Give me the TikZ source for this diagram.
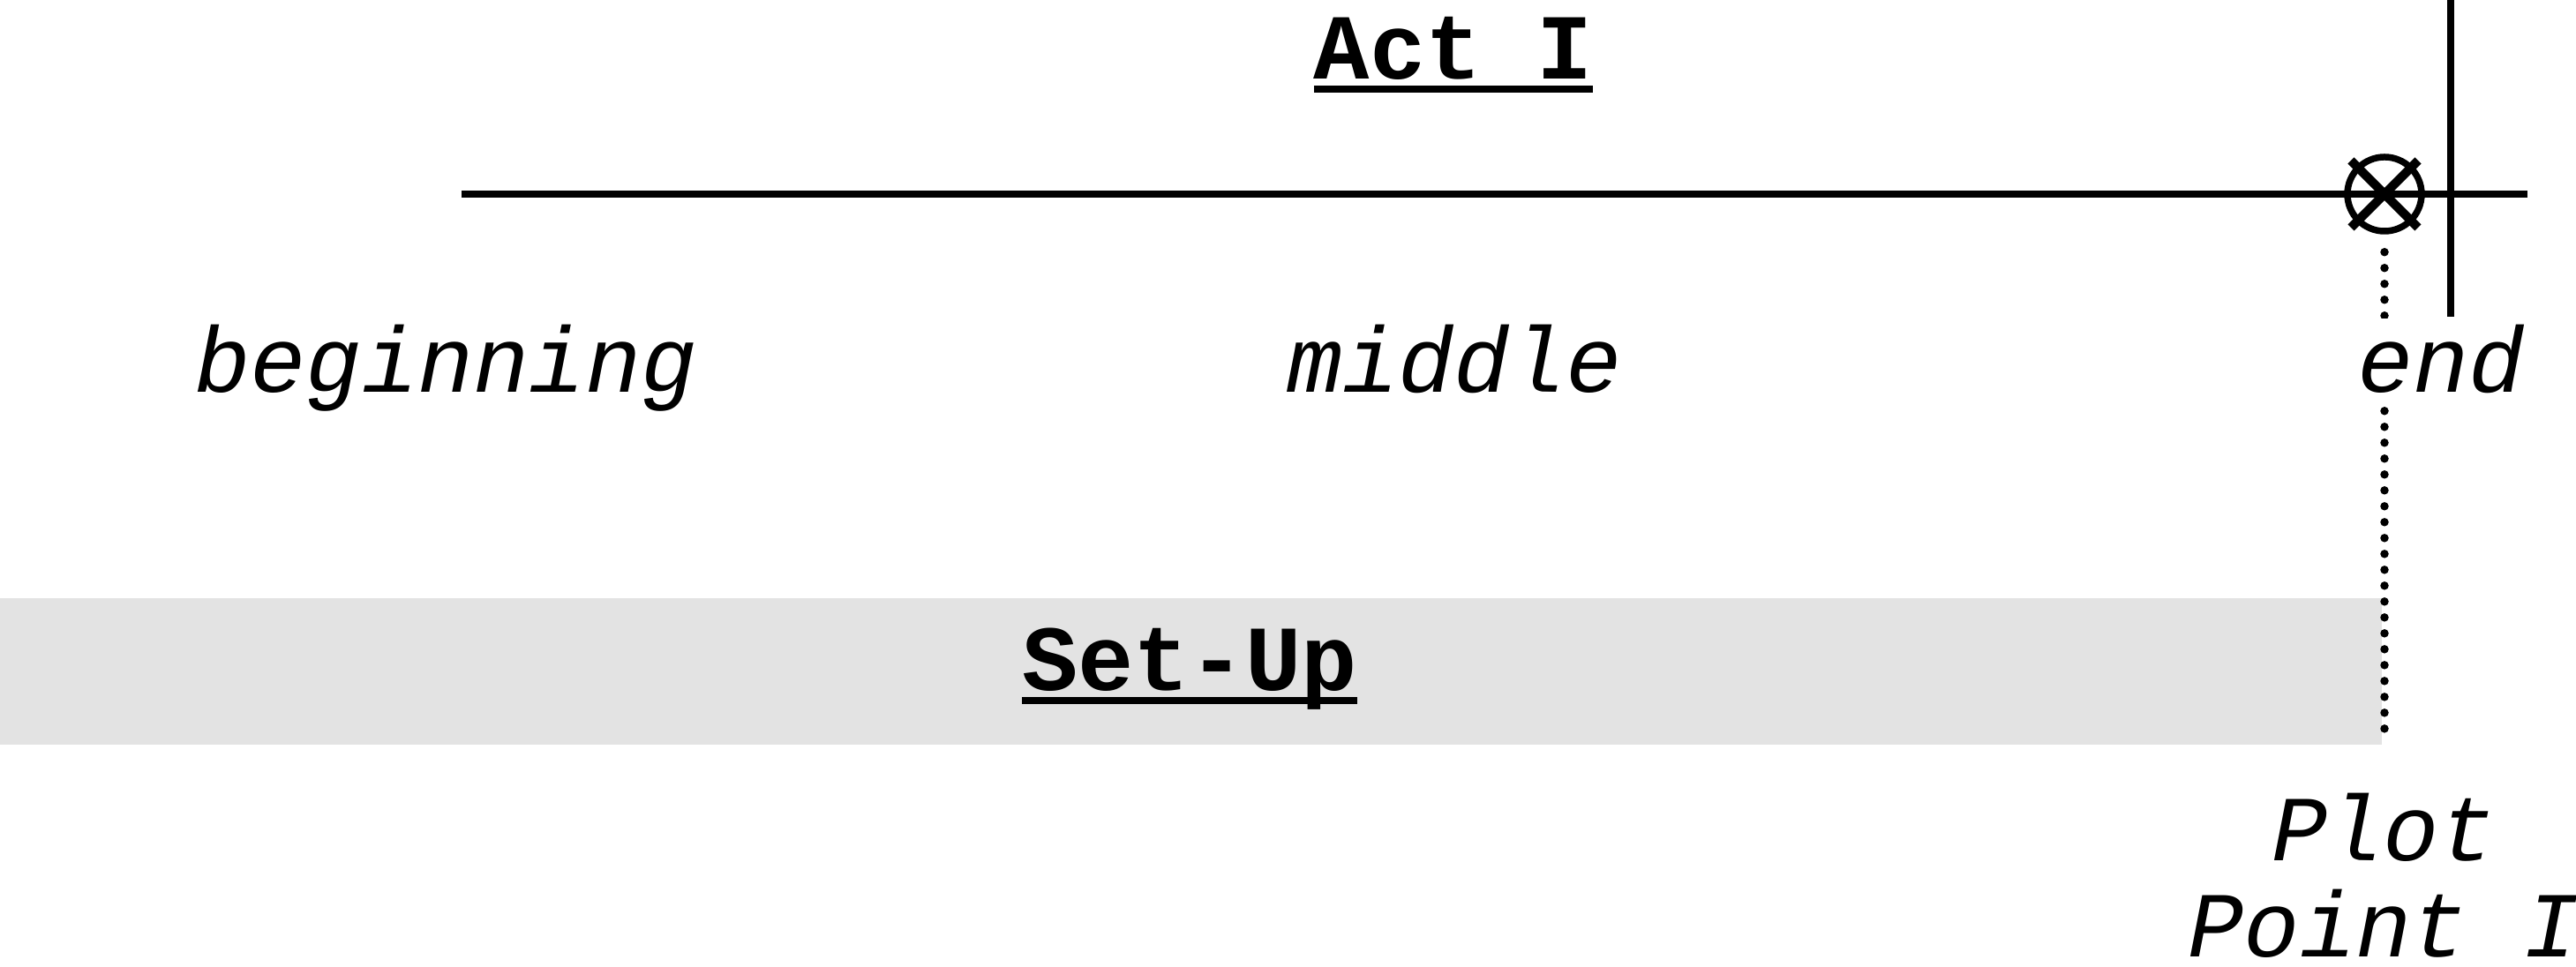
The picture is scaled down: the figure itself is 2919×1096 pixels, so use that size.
\documentclass[tikz,border=0pt]{standalone}
\usepackage{fontspec}
\setmonofont{Liberation Mono}
\usetikzlibrary{positioning}
\definecolor{setupgray}{HTML}{E3E3E3}
\newcommand{\headul}[1]{\setbox0\hbox{#1}\rlap{\rule[-1.7pt]{\wd0}{0.9pt}}\box0}

\begin{document}
\begin{tikzpicture}[x=0.04mm, y=-0.04mm,
    every node/.style={font=\fontsize{12}{12.5}\selectfont\ttfamily, inner sep=0pt},
    heading/.style={font=\fontsize{12}{12.5}\selectfont\ttfamily\bfseries, anchor=base},
    phase/.style={font=\fontsize{12}{12.5}\selectfont\ttfamily\itshape, anchor=base},
    actline/.style={line width=0.85pt},
    pointline/.style={line width=0.38mm, line cap=round, dash pattern=on 0pt off 0.72mm}]
    \useasboundingbox (0,0) rectangle (2919,1096);
    \node[fill=setupgray, anchor=north west, minimum width=108.28mm, minimum height=6.64mm] (setup) at (-10,676) {};
    \node[heading] (setuplbl) at (1348,783) {\headul{Set-Up}};
    \node[heading] (act) at (1647,90) {\headul{Act I}};
    \coordinate (actstart) at (523,220);
    \coordinate (actend) at (2864,220);
    \coordinate (acttop) at (2777,0);
    \draw[actline] (actstart) -- (actend);
    \node[circle, minimum size=3.36mm, draw, line width=0.85pt] (plotpt) at (2702,220) {};
    \draw[line width=1.15pt] (plotpt.center) ++(-38,-38) -- ++(76,76);
    \draw[line width=1.15pt] (plotpt.center) ++(38,-38) -- ++(-76,76);
    \draw[pointline, shorten <=0.8mm, shorten >=0.5mm] (plotpt.south) -- (plotpt.south |- setup.south);
    \node[phase] (beginlbl) at (505,445) {beginning};
    \node[phase] (midlbl) at (1648,445) {middle};
    \node[phase, fill=white, inner sep=0.3mm] (endlbl) at (2766,445) {end};
    \draw[actline] (acttop) -- (acttop |- endlbl.north);
    \node[phase, align=center] (plotlbl) at (2701,1085) {Plot\\Point I};
\end{tikzpicture}
\end{document}
